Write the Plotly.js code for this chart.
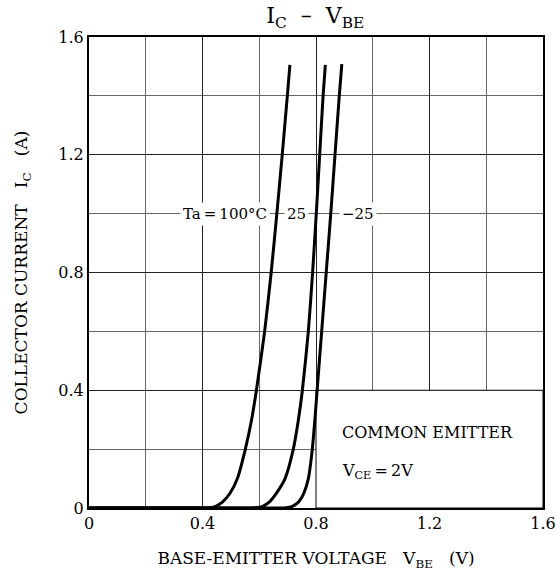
<!DOCTYPE html>
<html>
<head>
<meta charset="utf-8">
<script src="https://cdn.plot.ly/plotly-3.0.1.min.js"></script>
<style>html,body{margin:0;padding:0;background:#fff;}#chart{width:556px;height:573px;}</style>
</head>
<body>
<div id="chart"></div>
<script>
// Ta = 100 °C
const vbe100 = [0, 0.40, 0.425, 0.445, 0.47, 0.497, 0.523, 0.551, 0.573, 0.59, 0.619, 0.642, 0.662, 0.681, 0.699, 0.708];
const ic100  = [0, 0, 0.001, 0.005, 0.02, 0.05, 0.1, 0.2, 0.3, 0.4, 0.6, 0.8, 1.0, 1.2, 1.4, 1.505];
// Ta = 25 °C
const vbe25 = [0, 0.56, 0.585, 0.61, 0.635, 0.66, 0.691, 0.72, 0.738, 0.752, 0.773, 0.788, 0.801, 0.813, 0.825, 0.833];
const ic25  = [0, 0, 0.001, 0.005, 0.02, 0.05, 0.1, 0.2, 0.3, 0.4, 0.6, 0.8, 1.0, 1.2, 1.4, 1.505];
// Ta = -25 °C
const vbeM25 = [0, 0.67, 0.695, 0.715, 0.738, 0.757, 0.773, 0.787, 0.796, 0.804, 0.82, 0.836, 0.852, 0.867, 0.882, 0.891];
const icM25  = [0, 0, 0.001, 0.005, 0.02, 0.05, 0.1, 0.2, 0.3, 0.4, 0.6, 0.8, 1.0, 1.2, 1.4, 1.508];

const xTickVals = [0, 0.4, 0.8, 1.2, 1.6];
const xTickText = ['0', '0.4', '0.8', '1.2', '1.6'];
const yTickVals = [0, 0.4, 0.8, 1.2, 1.6];
const yTickText = ['0', '0.4', '0.8', '1.2', '1.6'];

const curveLabels = ['Ta\u2009=\u2009100°C', '25', '\u221225'];
const labelX = [0.48, 0.73, 0.949];
const labelY = 1.0;

const FONT = 'DejaVu Serif, Liberation Serif, serif';

const lineStyle = {color: '#000', width: 3, shape: 'spline', smoothing: 0.6};
const traces = [
  {x: vbe100, y: ic100, mode: 'lines', line: lineStyle, hoverinfo: 'skip'},
  {x: vbe25, y: ic25, mode: 'lines', line: lineStyle, hoverinfo: 'skip'},
  {x: vbeM25, y: icM25, mode: 'lines', line: lineStyle, hoverinfo: 'skip'}
];

const annotations = curveLabels.map((t, i) => ({
  x: labelX[i], y: labelY, xref: 'x', yref: 'y', text: t, showarrow: false,
  bgcolor: '#fff', borderpad: 2, font: {family: FONT, size: 15, color: '#000'}
}));
annotations.push({
  x: 0.886, y: 0.255, xref: 'x', yref: 'y', xanchor: 'left', text: 'COMMON EMITTER',
  showarrow: false, font: {family: FONT, size: 16, color: '#000'}
});
annotations.push({
  x: 0.886, y: 0.125, xref: 'x', yref: 'y', xanchor: 'left', text: 'V<sub>CE</sub>\u2009=\u20092V',
  showarrow: false, font: {family: FONT, size: 16, color: '#000'}
});

const layout = {
  width: 556, height: 573,
  margin: {l: 89, r: 13, t: 37, b: 65},
  paper_bgcolor: '#fff', plot_bgcolor: '#fff',
  showlegend: false,
  font: {family: FONT, color: '#000'},
  title: {text: 'I<sub>C</sub>  \u2013  V<sub>BE</sub>', font: {family: FONT, size: 22, color: '#000'},
          x: 0.567, xanchor: 'center', y: 0.986, yanchor: 'top'},
  xaxis: {
    range: [0, 1.6], tickvals: xTickVals, ticktext: xTickText,
    showgrid: true, gridcolor: '#222', gridwidth: 1,
    minor: {dtick: 0.2, showgrid: true, gridcolor: '#666', gridwidth: 1},
    showline: true, linecolor: '#000', linewidth: 2, mirror: true,
    zeroline: false, ticks: '', tickfont: {family: FONT, size: 16, color: '#000'},
    title: {text: 'BASE-EMITTER VOLTAGE   V<sub>BE</sub>   (V)', font: {family: FONT, size: 17, color: '#000'}, standoff: 20}
  },
  yaxis: {
    range: [0, 1.6], tickvals: yTickVals, ticktext: yTickText,
    showgrid: true, gridcolor: '#222', gridwidth: 1,
    minor: {dtick: 0.2, showgrid: true, gridcolor: '#666', gridwidth: 1},
    showline: true, linecolor: '#000', linewidth: 2, mirror: true,
    zeroline: false, ticks: '', tickfont: {family: FONT, size: 16, color: '#000'},
    title: {text: 'COLLECTOR CURRENT   I<sub>C</sub>   (A)', font: {family: FONT, size: 17, color: '#000'}, standoff: 26}
  },
  shapes: [{
    type: 'rect', xref: 'x', yref: 'y', x0: 0.8, x1: 1.6, y0: 0, y1: 0.4,
    fillcolor: '#fff', line: {color: '#000', width: 1}, layer: 'between'
  }],
  annotations: annotations
};

Plotly.newPlot('chart', traces, layout, {staticPlot: true, displayModeBar: false});
</script>
</body>
</html>
